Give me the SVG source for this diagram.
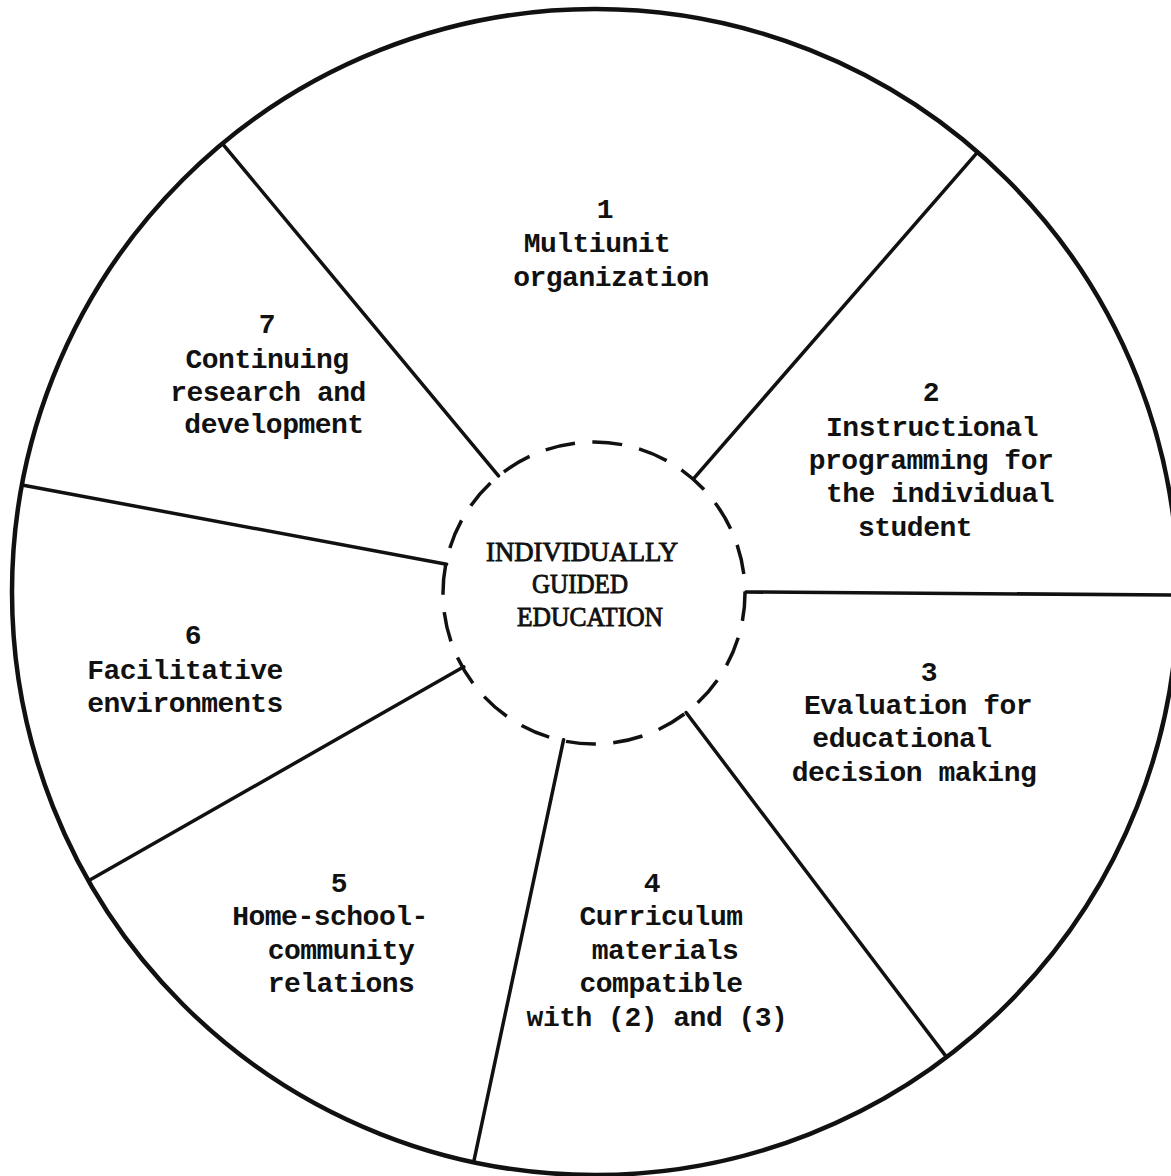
<svg xmlns="http://www.w3.org/2000/svg" width="1171" height="1176" viewBox="0 0 1171 1176">
<style>
.bg{fill:#ffffff}
.outer{fill:none;stroke:#111;stroke-width:4.5}
.spoke{stroke:#111;stroke-width:3.5;stroke-linecap:round}
.hub{fill:none;stroke:#111;stroke-width:3.5;stroke-dasharray:30 17.44;stroke-dashoffset:2}
.t{font-family:"Liberation Mono","Courier New",monospace;font-weight:bold;font-size:28px;letter-spacing:-0.5px;fill:#111;text-anchor:middle}
.c{font-family:"Liberation Serif","Times New Roman",serif;font-size:28px;fill:#111;stroke:#111;stroke-width:0.9;text-anchor:middle}
</style>
<rect class="bg" x="0" y="0" width="1171" height="1176"/>
<g id="wheel">
<circle class="outer" cx="595" cy="592" r="583"/>
</g>
<g id="connectors">
<line class="spoke" x1="498.5" y1="475.8" x2="222.4" y2="143.6"/>
<line class="spoke" x1="694.1" y1="478.1" x2="977.6" y2="152.1"/>
<line class="spoke" x1="746" y1="592" x2="1178" y2="595"/>
<line class="spoke" x1="686.1" y1="712.5" x2="946.6" y2="1057.1"/>
<line class="spoke" x1="563.6" y1="739.7" x2="473.6" y2="1162.3"/>
<line class="spoke" x1="463.8" y1="666.8" x2="88.5" y2="880.8"/>
<line class="spoke" x1="446.6" y1="564.3" x2="22" y2="485"/>
</g>
<g id="hub">
<circle class="hub" cx="594" cy="593" r="151"/>
<text class="c" x="582" y="561" textLength="192" lengthAdjust="spacingAndGlyphs">INDIVIDUALLY</text>
<text class="c" x="580" y="593" textLength="96" lengthAdjust="spacingAndGlyphs">GUIDED</text>
<text class="c" x="590" y="626" textLength="146" lengthAdjust="spacingAndGlyphs">EDUCATION</text>
</g>
<g id="node1">
<text class="t" x="605" y="218">1</text>
<text class="t" x="597" y="252">Multiunit</text>
<text class="t" x="611" y="286">organization</text>
</g>
<g id="node2">
<text class="t" x="931" y="401">2</text>
<text class="t" x="932" y="436">Instructional</text>
<text class="t" x="931" y="469">programming for</text>
<text class="t" x="940" y="502">the individual</text>
<text class="t" x="915" y="536">student</text>
</g>
<g id="node3">
<text class="t" x="929" y="681">3</text>
<text class="t" x="918" y="714">Evaluation for</text>
<text class="t" x="902" y="747">educational</text>
<text class="t" x="914" y="781">decision making</text>
</g>
<g id="node4">
<text class="t" x="652" y="892">4</text>
<text class="t" x="661" y="925">Curriculum</text>
<text class="t" x="665" y="959">materials</text>
<text class="t" x="661" y="992">compatible</text>
<text class="t" x="657" y="1026">with (2) and (3)</text>
</g>
<g id="node5">
<text class="t" x="339" y="892">5</text>
<text class="t" x="330" y="925">Home-school-</text>
<text class="t" x="341" y="959">community</text>
<text class="t" x="341" y="992">relations</text>
</g>
<g id="node6">
<text class="t" x="193" y="644">6</text>
<text class="t" x="185" y="679">Facilitative</text>
<text class="t" x="185" y="712">environments</text>
</g>
<g id="node7">
<text class="t" x="267" y="333">7</text>
<text class="t" x="267" y="368">Continuing</text>
<text class="t" x="268" y="401">research and</text>
<text class="t" x="274" y="433">development</text>
</g>
</svg>
